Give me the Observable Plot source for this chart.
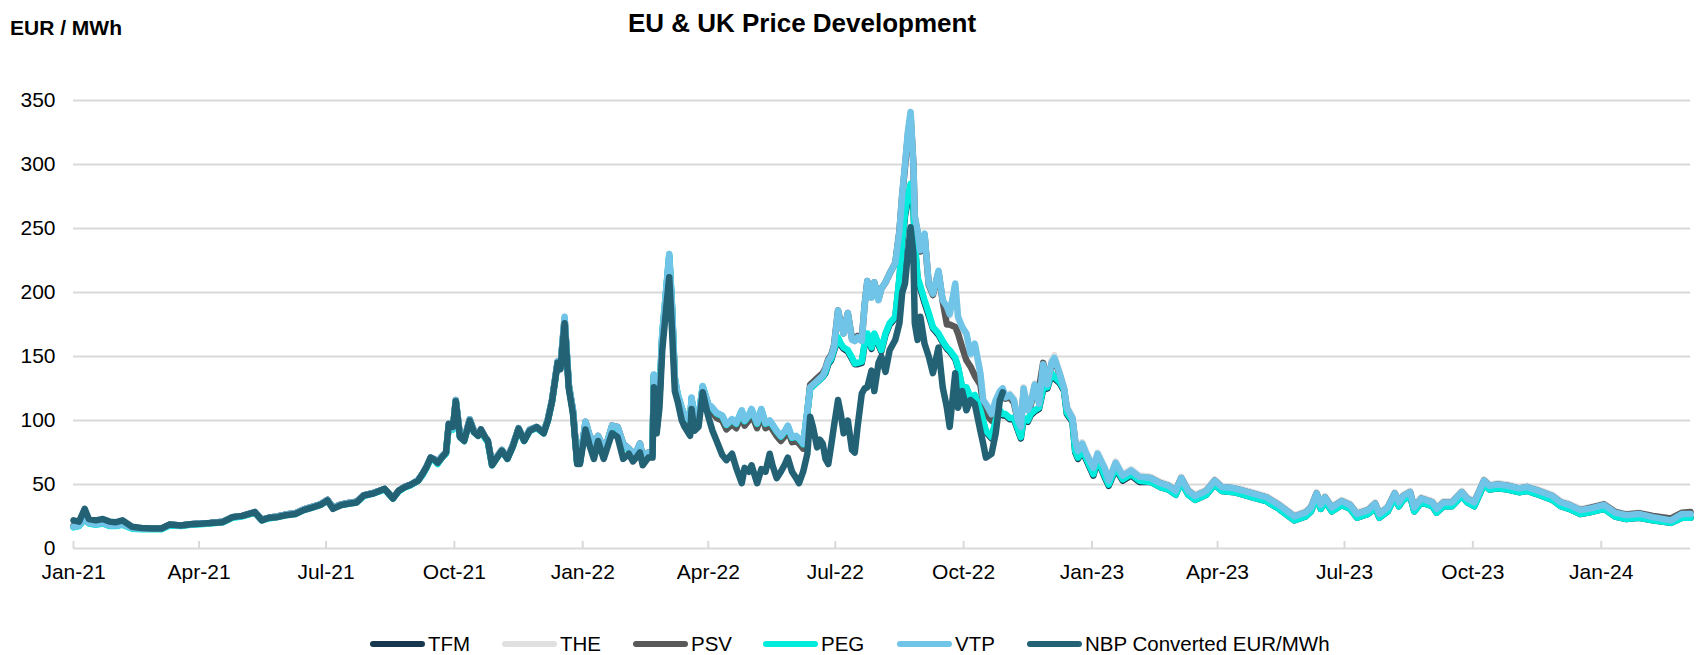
<!DOCTYPE html>
<html>
<head>
<meta charset="utf-8">
<script src="https://cdn.jsdelivr.net/npm/d3@7"></script>
<script src="https://cdn.jsdelivr.net/npm/@observablehq/plot@0.6"></script>
<style>
  body { margin: 0; background: #fff; }
  #wrap { position: relative; width: 1696px; height: 655px; font-family: "Liberation Sans", Arial, sans-serif; overflow: hidden; background: #fff; }
  #title { position: absolute; left: 0; width: 1604px; top: 10px; text-align: center; font-size: 26px; font-weight: bold; line-height: 1; color: #000; }
  #ylabel { position: absolute; left: 10px; top: 17px; font-size: 21px; font-weight: bold; line-height: 1; color: #000; }
  #chart { position: absolute; left: 0; top: 0; }
  #legend { position: absolute; left: 0; top: 633px; height: 22px; width: 1696px; }
  .item { position: absolute; top: 0; display: flex; align-items: center; height: 22px; font-size: 20.5px; color: #000; white-space: nowrap; }
  .sw { width: 55px; height: 6px; border-radius: 3px; margin-right: 3px; }
</style>
</head>
<body>
<div id="wrap">
  <div id="chart"></div>
  <div id="title">EU &amp; UK Price Development</div>
  <div id="ylabel">EUR / MWh</div>
  <div id="legend"></div>
</div>
<script>
// ---------- series meta ----------
const seriesNames = ["TFM", "THE", "PSV", "PEG", "VTP", "NBP Converted EUR/MWh"];
const seriesKeys  = ["TFM", "THE", "PSV", "PEG", "VTP", "NBP"];
const seriesColors = ["#17374f", "#e0e0e0", "#595959", "#00ecdc", "#70c4e8", "#236175"];
const yTicks = [0, 50, 100, 150, 200, 250, 300, 350];
const xTickMonths = ["2021-01-01","2021-04-01","2021-07-01","2021-10-01","2022-01-01","2022-04-01","2022-07-01","2022-10-01","2023-01-01","2023-04-01","2023-07-01","2023-10-01","2024-01-01"];
const startDate = "2021-01-01";
const endDay = 1159; // last observation, days after startDate

// ---------- period A: Jan 2021 - early Sep 2021 (days after 2021-01-01) ----------
const daysA = [0,4,8,11,16,21,26,30,35,42,49,56,63,69,77,84,91,98,107,114,121,130,135,140,146,152,159,165,171,177,182,186,192,197,203,208,215,223,229,233,237,242,247];
const nbpA = [22,21,31,23,22,23,21,20.5,22,17,16,15.6,15.6,18.8,18,19,19.3,20,20.6,24.5,25.5,28.4,22,24,24.5,26,27,30,32,34,37.5,31,34,35,36,41.4,43,46.6,39,45,47.6,50,53];
const vtpA = [17,18,24,20,19,20,18,18,19,16,15.5,15.5,15.5,18.5,18,19,19.5,20,21,24.5,25.5,28.5,22.5,24,25,26.5,27.5,30.5,32.5,34.5,38,32,34.5,35.5,36.5,41.5,43.5,46.5,39.5,45,48,50,53.5];
const tfmA = [17,18,23,20,19,20,18,18,19,16,15.5,15.5,15.5,18.5,18,19,19.5,20,21,24.5,25.5,28,22.5,24,25,26.5,27.5,30.5,32.5,34.5,38,32,34.5,35.5,36.5,41.5,43.5,46.5,39.5,45,48,50,53];
const theA = [17.5,18,24,20,19.5,20,18.5,18,19,16,15.5,15.5,15.5,18.5,18,19,19.5,20,21,24.5,25.5,28.5,22.5,24,25,26.5,27.5,30.5,32.5,34.5,38,32,34.5,35.5,36.5,41.5,43.5,46.5,39.5,45,48,50,53.5];
const psvA = [17.5,18,24,20,19.5,20,18.5,18,19,16,15.5,15.5,15.5,18.5,18,19,19.5,20,21,24.5,25.5,28.5,22.5,24,25,26.5,27.5,30.5,32.5,34.5,38,32,34.5,35.5,36.5,41.5,43.5,46.5,39.5,45,48,50,53.5];
const pegA = [16.5,17.5,23.5,19.5,18.5,19.5,17.5,17.5,18.5,15.5,15,15,15,18,17.5,18.5,19,19.5,20.5,24,25,28,22,23.5,24.5,26,27,30,32,34,37.5,31.5,34,35,36,41,43,46,39,44.5,47.5,49.5,53];

// ---------- period B1: Sep 2021 - Feb 2022 ----------
const daysB1 = [250,253,256,259,261,264,267,269,272,274,277,280,284,287,290,292,295,297,300,303,307,311,315,319,323,327,332,337,340,343,345,347,349,352,355,358,361,363,367,370,373,376,380,383,386,390,394,398,401,404,406,408,412,415];
const nbpB1 = [58,63.5,71,69,67,71,75,97.5,95,115,87,84,100,91,88,93,87,84,65,70,76.5,70,80,93.6,84,92,94.8,90,100,115,130,145,140,176,125,105,66,66,93,80,70,84,70,80,90,87,70,74,68,72,75,65,71,71];
const vtpB1 = [58,64,71,69.5,67,72,75,97,94,116,88,85,101,92,89,93,87,84,66,71,77,71,81,94,85,93,95,91,101,116,131,146,142,181,128,108,68,68,99,88,82,88,78,85,96,95,82,78,74,77,82,72,75,74];
const tfmB1 = [57.5,63.5,70.5,69,66.5,71.5,74.5,96.5,93.5,115,87.5,84.5,100,91.5,88.5,92.5,86.5,83.5,65.5,70.5,76.5,70.5,80.5,93.5,84.5,92.5,94.5,90.5,100,115,130,145,141,179,127,107,67.5,67.5,98,87,81,87,77,84,95,94,81,77,73,76,81,71,74,73];
const theB1 = [58,64,71,69.5,67,72,75,97,94,116,88,85,101,92,89,93,87,84,66,71,77,71,81,94,85,93,95,91,101,116,131,146,142,180,128,108,68,68,99,88,82,88,78,85,96,95,82,78,74,77,82,72,75,74];
const psvB1 = [58,64,71,69.5,67,72,75,97,94,116,88,85,101,92,89,93,87,84,66,71,77,71,81,94,85,93,95,91,101,116,131,146,142,179,128,108,68,68,99,88,82,88,78,85,96,95,82,78,74,77,82,72,75,74];
const pegB1 = [57,63,70,68.5,66,71,74,96,93,115,87,84,100,91,88,92,86,83,65,70,76,70,80,93,84,92,94,90,100,115,130,145,141,178,127,107,67,67,98,87,81,87,77,84,95,94,81,77,73,76,81,71,74,73];

// ---------- period B2: Feb 2022 - Jun 2022 ----------
const daysB2 = [416,418,420,422,425,427,429,431,433,436,438,442,443,445,448,451,455,458,461,465,468,472,475,479,481,484,486,490,493,496,499,501,504,507,510,512,515,518,520,523,526];
const nbpB2 = [126,90,110,155,190,212,170,123,115,100,95,88,109,92,95,122,103,92,84,73,69,74,63,51,63,60,65,51,62,60,74,65,55,60,66,71,60,55,51,60,74];
const vtpB2 = [136,95,120,168,205,230,190,134,121,110,104,100,118,100,103,127,113,110,106,104,97,101,98,108,100,104,109,98,109,98,100,97,92,88,92,96,87,88,86,82,108];
const tfmB2 = [135,94,119,166,203,228,188,132,120,109,103,99,117,99,102,126,112,109,105,103,96,100,97,107,99,103,108,97,108,97,99,96,91,87,91,95,86,87,85,81,106];
const theB2 = [134,94,118,165,202,226,187,132,119,108,102,97,115,97,100,124,110,107,103,101,94,98,95,105,97,101,106,95,106,95,97,94,89,85,89,93,84,85,83,79,106];
const psvB2 = [133,93,117,164,200,225,186,131,118,107,101,96,114,96,99,123,109,106,102,100,93,97,94,104,96,100,105,94,105,94,96,93,88,84,88,92,83,84,82,78,107];
const pegB2 = [135.5,94.5,119.5,167,204,229,189,133,120.5,109.5,103.5,99.5,117.5,99.5,102.5,126.5,112.5,109.5,105.5,103.5,96.5,100.5,97.5,107.5,99.5,103.5,108.5,97.5,108.5,97.5,99.5,96.5,91.5,87.5,91.5,95.5,86.5,87.5,85.5,81.5,107];

// ---------- period B3: Jun 2022 - Oct 2022 ----------
const daysB3 = [528,530,533,535,537,539,541,543,545,548,550,552,555,558,560,562,565,567,569,572,574,577,579,582,585,589,592,594,596,598,600,602,603,605,607,610,613,616,620,623,626,628,632,634,637,640,643,646,650,652,654,658,661,664,666];
const nbpB3 = [103,95,79,85,82,70,66,80,95,116,105,90,100,77,75,95,121,125,126,139,123,145,150,138,155,163,176,200,207,230,251,230,176,163,181,160,150,137,157,126,110,95,137,110,123,108,116,113,92,82,71,74,90,116,122];
const vtpB3 = [126,128,131,133,135,140,147,150,157,186,175,168,184,163,162,165,162,190,209,196,208,194,203,208,215,223,248,277,300,325,341,300,260,248,233,246,207,199,217,194,189,183,207,181,173,168,152,160,137,116,113,105,116,123,125];
const tfmB3 = [125,127,130,132,134,137,144,147,154,164,159,156,154,148,144,144,145,159,167,156,167,159,154,167,175,180,210,238,260,272,282,268,238,210,203,192,182,172,167,161,156,154,148,141,125,125,117,119,107,99,91,86,99,107,104];
const theB3 = [126,128,131,133,135,140,147,150,157,185,175,168,183,163,162,165,162,189,208,196,207,194,203,207,214,222,247,276,299,324,340,300,259,247,232,245,206,198,216,193,188,182,206,180,172,167,151,159,136,115,112,104,115,122,125];
const psvB3 = [128,130,133,135,137,141,148,151,158,186,176,168,184,164,163,166,163,190,209,197,208,195,203,208,215,223,248,276,298,322,338,300,258,247,232,245,206,198,216,193,175,175,173,168,157,147,142,135,128,112,105,100,112,120,124];
const pegB3 = [125,127,130,132,134,138,145,148,155,165,160,157,155,149,144.5,145,146,160,168,157,168,160,155,168,176,181,212,240,262,275,285,270,240,212,205,194,184,173,168,162,157,155,149,142,126,126,118,120,108,100,92,87,100,108,105];

// ---------- period C1: Oct 2022 - Feb 2023 (no NBP) ----------
const daysC1 = [668,671,674,677,679,681,684,686,689,692,695,698,701,703,707,710,712,716,718,720,723,726,731,734,739,742,747,752,758,764];
const vtpC1 = [118,120,116,100,95,125,108,113,128,113,144,128,145,149,136,125,110,102,84,76,82,74,63,74,63,53,67,57,61,56];
const tfmC1 = [104,101,101,92,86,101,99,104,107,109,124,125,136,133,129,123,105,99,75,70,76,69,57,69,56,49,62,53,57,52];
const theC1 = [119,121,117,101,96,126,109,114,129,114,145,129,147,151,137,126,111,103,85,77,83,75,64,75,64,54,68,58,62,57];
const psvC1 = [117,118,114,99,94,122,110,111,127,125,145,128,144,148,135,124,109,101,83,75,80,73,62,72,62,52,66,56,60,55];
const pegC1 = [105,102,102,93,87,102,100,105,108,110,125,126,137,134,130,124,106,100,76,71,77,70,58,70,57,50,63,54,58,53];

// ---------- period C2: Feb 2023 - Mar 2024 (no NBP) ----------
const daysC2 = [772,779,785,790,794,799,804,812,818,823,832,845,855,864,875,883,887,891,894,897,902,909,915,920,928,933,936,942,947,950,953,958,961,966,974,977,982,988,995,999,1004,1011,1015,1021,1028,1036,1042,1050,1060,1066,1072,1080,1086,1097,1105,1113,1122,1132,1145,1153,1159];
const vtpC2 = [55,51,49,45,55,45,41,45,53,48,47,43,40,34,25,28,32,43,34,40,32,37,34,27,30,35,27,32,43,36,41,44,32,39,36,31,36,36,44,39,36,53,49,50,49,47,48,45,41,36,34,30,31,34,28,26,27,24.5,22,27,27];
const tfmC2 = [52,48,46,42,52,42,38,42,50,45,44,40,37,31,22,25,29,40,31,37,29,34,31,24,27,32,24,29,40,33,38,41,29,36,33,28,33,33,41,36,33,50,46,47,46,44,45,42,38,33,31,27,28,31,25,23,24,22,20,24,24];
const theC2 = [56,52,50,46,56,46,42,46,54,49,48,44,41,35,26,29,33,44,35,41,33,38,35,28,31,36,28,33,44,37,42,45,33,40,37,32,37,37,45,40,37,54,50,51,50,48,49,46,42,37,35,31,32,35,29,27,28,25.5,23,28,28];
const psvC2 = [55,51,49,45,55,45,41,45,53,48,47,43,40,34,25,28,32,43,34,40,32,37,34,27,30,35,27,32,43,36,41,44,32,39,36,31,36,36,44,39,36,53,49,50,49,47,48,45,41,36,34,30,31.5,34.5,28.5,26.5,27.5,25.5,23.5,28,28.5];
const pegC2 = [52,48,46,42,52,42,38,42,50,45,44,40,37,31,22,25,29,40,31,37,29,34,31,24,27,32,24,29,40,33,38,41,29,36,33,28,33,33,41,36,33,50,46,47,46,44,45,42,38,33,31,27,28,31,25,23,24,22,20,24,24];

// ---------- assemble ----------
const periods = [
  {days: daysA,  TFM: tfmA,  THE: theA,  PSV: psvA,  PEG: pegA,  VTP: vtpA,  NBP: nbpA},
  {days: daysB1, TFM: tfmB1, THE: theB1, PSV: psvB1, PEG: pegB1, VTP: vtpB1, NBP: nbpB1},
  {days: daysB2, TFM: tfmB2, THE: theB2, PSV: psvB2, PEG: pegB2, VTP: vtpB2, NBP: nbpB2},
  {days: daysB3, TFM: tfmB3, THE: theB3, PSV: psvB3, PEG: pegB3, VTP: vtpB3, NBP: nbpB3},
  {days: daysC1, TFM: tfmC1, THE: theC1, PSV: psvC1, PEG: pegC1, VTP: vtpC1},
  {days: daysC2, TFM: tfmC2, THE: theC2, PSV: psvC2, PEG: pegC2, VTP: vtpC2}
];
const t0 = new Date(startDate + "T00:00:00Z");
const rows = [];
seriesKeys.forEach((k, i) => {
  periods.forEach((p, pi) => {
    const vals = p[k];
    if (!vals) return;
    if (vals.length !== p.days.length) throw new Error(`length mismatch ${k} period ${pi}: ${vals.length} vs ${p.days.length}`);
    vals.forEach((v, j) => rows.push({series: seriesNames[i], date: d3.utcDay.offset(t0, p.days[j]), value: v}));
  });
});
const xTicks = xTickMonths.map(s => new Date(s + "T00:00:00Z"));

const font = '"Liberation Sans", Arial, sans-serif';
const lineMarks = seriesNames.map(name =>
  Plot.line(rows.filter(r => r.series === name), {
    x: "date", y: "value", stroke: "series",
    strokeWidth: 6.5,
    strokeLinejoin: "round", strokeLinecap: "round"
  })
);

const chart = Plot.plot({
  width: 1696,
  height: 600,
  marginTop: 100,
  marginBottom: 52,
  marginLeft: 73,
  marginRight: 6,
  style: {fontFamily: font, fontSize: "21px", color: "#000", background: "#fff"},
  x: {type: "utc", domain: [t0, d3.utcDay.offset(t0, endDay)]},
  y: {domain: [0, 350]},
  color: {domain: seriesNames, range: seriesColors},
  marks: [
    Plot.ruleY(yTicks, {stroke: "#d9d9d9", strokeWidth: 2}),
    Plot.ruleX(xTicks, {y1: 0, y2: 5.5, stroke: "#d9d9d9", strokeWidth: 2}),
    ...lineMarks,
    Plot.axisY({ticks: yTicks, tickSize: 0, tickPadding: 18, label: null, fontSize: 21}),
    Plot.axisX({ticks: xTicks, tickFormat: d3.utcFormat("%b-%y"), tickSize: 0, tickPadding: 16, label: null, fontSize: 21})
  ]
});
document.getElementById("chart").appendChild(chart);

// ---------- legend ----------
const legendLeft = [370, 502, 633, 763, 897, 1027];
const legend = d3.select("#legend");
seriesNames.forEach((name, i) => {
  const it = legend.append("div").attr("class", "item").style("left", legendLeft[i] + "px");
  it.append("div").attr("class", "sw").style("background", seriesColors[i]);
  it.append("span").text(name);
});
</script>
</body>
</html>
